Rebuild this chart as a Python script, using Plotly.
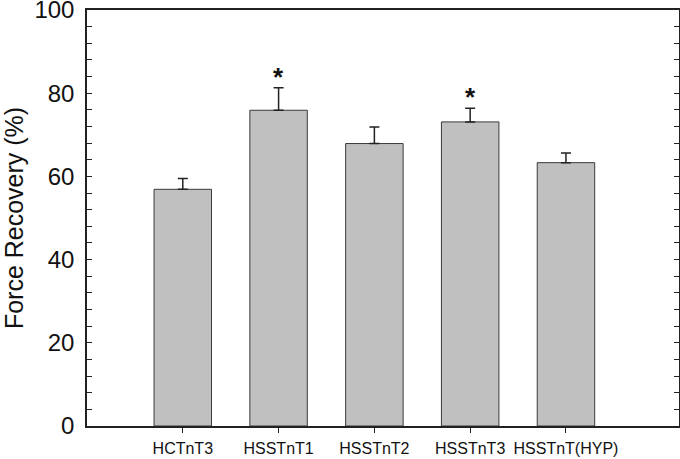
import plotly.graph_objects as go

categories = ["HCTnT3", "HSSTnT1", "HSSTnT2", "HSSTnT3", "HSSTnT(HYP)"]
force_recovery = [56.9, 75.9, 67.9, 73.1, 63.3]
sem = [2.6, 5.4, 4.0, 3.3, 2.3]
significant = [False, True, False, True, False]
y_ticks = [0, 20, 40, 60, 80, 100]

FONT = "Arial, Liberation Sans, Helvetica, sans-serif"

fig = go.Figure()
fig.add_trace(go.Bar(
    x=list(range(len(categories))),
    y=force_recovery,
    width=0.6,
    marker=dict(color="#c0c0c0", line=dict(color="#3a3a3a", width=1)),
    error_y=dict(type="data", symmetric=False, array=sem,
                 arrayminus=[0] * len(sem), color="#222222",
                 thickness=1.5, width=5),
    showlegend=False,
))

for i, (m, e, s) in enumerate(zip(force_recovery, sem, significant)):
    if s:
        fig.add_annotation(x=i, y=m + e, text="<b>*</b>", showarrow=False,
                           yanchor="bottom", yshift=-6,
                           font=dict(family=FONT, size=26, color="#111111"))

fig.update_layout(
    width=680, height=459,
    margin=dict(l=87, r=1, t=10, b=33, autoexpand=False),
    paper_bgcolor="white", plot_bgcolor="white",
    font=dict(family=FONT, color="#111111"),
    bargap=0.4,
)
fig.update_xaxes(
    range=[-1.0, 5.18], automargin=False,
    tickmode="array", tickvals=list(range(len(categories))), ticktext=categories,
    ticks="outside", ticklen=5, tickwidth=1, tickcolor="#222222",
    showline=True, linecolor="#222222", linewidth=1.5, mirror=True,
    showgrid=False, zeroline=False,
    tickfont=dict(size=16, family=FONT, color="#111111"),
    ticklabelstandoff=2,
)
fig.update_yaxes(
    range=[0, 100], automargin=False,
    tickmode="array", tickvals=y_ticks,
    ticks="inside", ticklen=5, tickwidth=1, tickcolor="#222222",
    minor=dict(dtick=4, ticks="inside", ticklen=5, tickwidth=1, tickcolor="#222222"),
    showline=True, linecolor="#222222", linewidth=1.5, mirror="allticks",
    showgrid=False, zeroline=False,
    tickfont=dict(size=24, family=FONT, color="#111111"),
    ticklabelstandoff=6, ticklabeloverflow="allow",
    title=dict(text="Force Recovery (%)", font=dict(size=25, family=FONT, color="#111111"),
               standoff=12),
)

fig.write_html("out.html", config={"displayModeBar": False},
               post_script="document.body.style.margin='0';document.body.style.overflow='hidden';")
